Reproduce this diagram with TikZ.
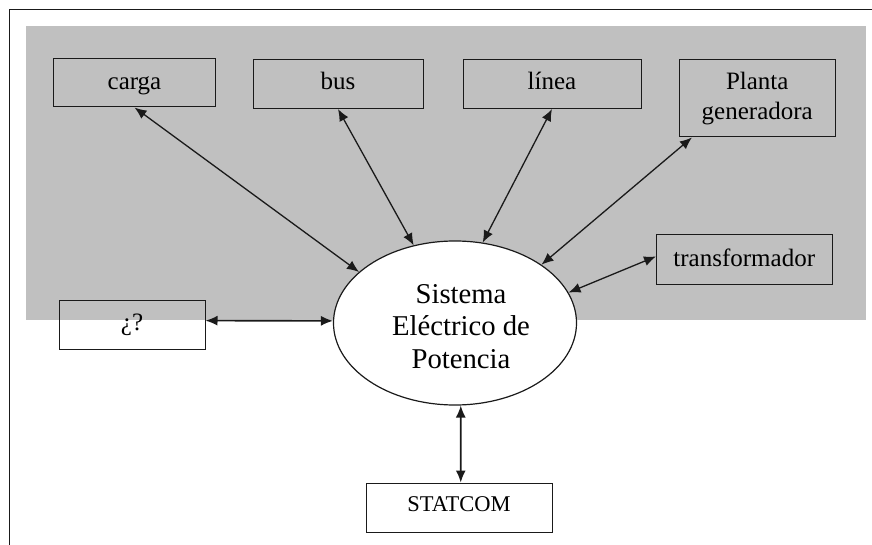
\documentclass[tikz,border=0pt]{standalone}
\usepackage{fontspec}
\setmainfont{Liberation Serif}
\usetikzlibrary{shapes.geometric,arrows.meta}
\definecolor{panelgray}{HTML}{C0C0C0}
\definecolor{inkdark}{HTML}{1A1A1A}
\tikzset{
  boxnode/.style={draw=inkdark,line width=1pt,rectangle,inner sep=0pt,align=center,font=\fontsize{25}{30}\selectfont},
  link/.style={draw=inkdark,line width=1.3pt,{Latex[length=12pt,width=10pt]}-{Latex[length=12pt,width=10pt]}},
  heavylink/.style={link,line width=1.6pt},
}
\begin{document}
\begin{tikzpicture}[x=1pt,y=-1pt]
\useasboundingbox (0,0) rectangle (872,545);
\fill[panelgray] (26,26) rectangle (866,320);
\draw[inkdark,line width=1.5pt] (9.5,545) -- (9.5,9.5) -- (872,9.5);
\node[boxnode,minimum width=162pt,minimum height=48.5pt,text height=20pt,text depth=5.5pt] (carga) at (134.5,82.75) {carga};
\node[boxnode,minimum width=170pt,minimum height=49pt,text height=18pt,text depth=6pt] (bus) at (338,84) {bus};
\node[boxnode,minimum width=178pt,minimum height=49pt,text height=18pt,text depth=6pt] (linea) at (552,84) {línea};
\node[boxnode,minimum width=155.5pt,minimum height=77.5pt] (planta) at (757.25,98.25) {Planta\\generadora};
\node[boxnode,minimum width=175.5pt,minimum height=49pt,text height=19pt,text depth=6pt] (trafo) at (744.25,259.5) {transformador};
\node[boxnode,minimum width=146pt,minimum height=49pt,text height=15pt,text depth=4pt] (duda) at (132,324.5) {¿?};
\node[boxnode,minimum width=186pt,minimum height=49pt,font=\fontsize{22.5}{26}\selectfont,text height=12pt,text depth=5pt] (statcom) at (459,507.5) {STATCOM};
\node[draw=inkdark,fill=white,line width=1.2pt,ellipse,inner sep=0pt,minimum width=243pt,minimum height=164pt,font=\fontsize{28.7}{33}\selectfont,text height=64.4pt,text depth=40pt] (sep) at (455,323) {\begin{tabular}{@{\hskip12pt}c@{}}Sistema\\[-0.5pt]Eléctrico de\\[-0.5pt]Potencia\end{tabular}};
\draw[link] (carga.south) -- (sep.152.7);
\draw[link] (bus.south) -- (sep.118.6);
\draw[link] (linea.south) -- (sep.71);
\draw[link] (planta.211) -- (sep.34.5);
\draw[link] (trafo.178) -- (sep.15);
\draw[heavylink] (duda.3) -- (sep.179);
\draw[heavylink] (statcom.86) -- (sep.274);
\end{tikzpicture}
\end{document}
